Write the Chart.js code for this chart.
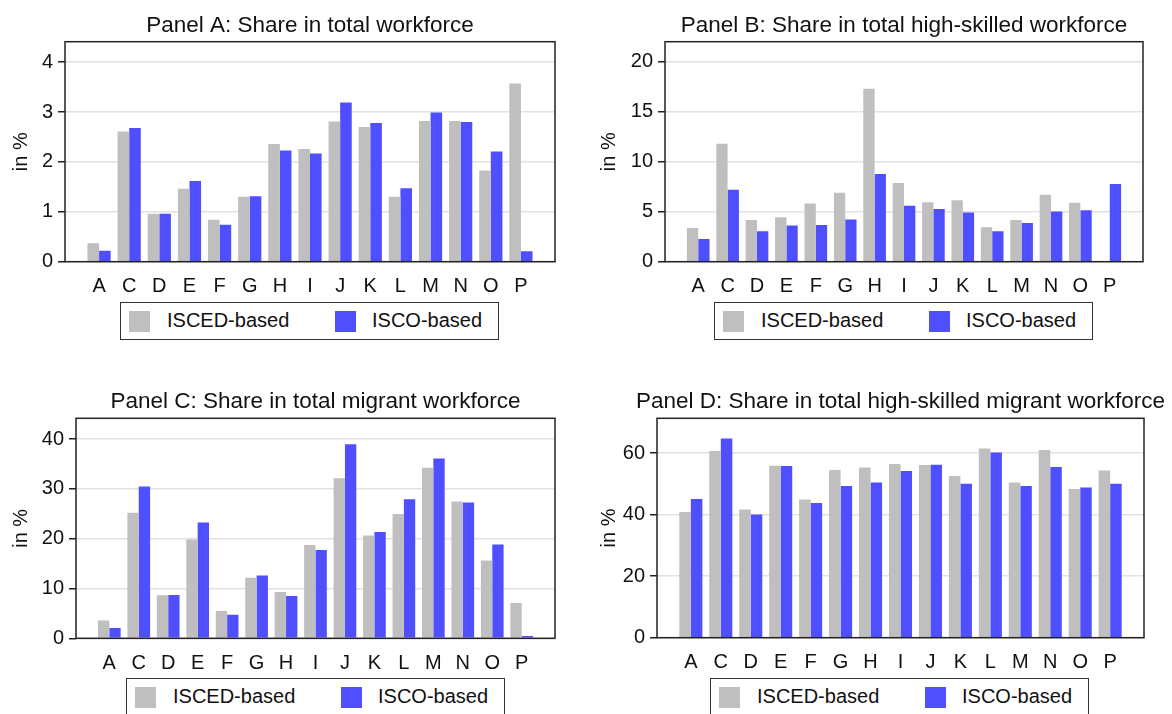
<!DOCTYPE html>
<html>
<head>
<meta charset="utf-8">
<script src="https://cdn.jsdelivr.net/npm/chart.js@4.4.0/dist/chart.umd.min.js"></script>
<style>
  html, body { margin: 0; padding: 0; background: #fff; }
  body { position: relative; width: 1172px; height: 714px; overflow: hidden; font-family: "Liberation Sans", Arial, sans-serif; }
  canvas.panel { position: absolute; }
  .legend { position: absolute; box-sizing: border-box; width: 379px; height: 38px; border: 1.5px solid #333; background: #fff; }
  .legend .sw { position: absolute; top: 7.5px; width: 21px; height: 21px; }
  .legend .lb { position: absolute; top: 0; height: 35px; line-height: 35px; font-size: 20px; color: #111; white-space: nowrap; }
</style>
</head>
<body>
<canvas id="chart-a" class="panel"></canvas>
<canvas id="chart-b" class="panel"></canvas>
<canvas id="chart-c" class="panel"></canvas>
<canvas id="chart-d" class="panel"></canvas>
<script>
// 行业代码 (x 轴)
const sectors = ['A', 'C', 'D', 'E', 'F', 'G', 'H', 'I', 'J', 'K', 'L', 'M', 'N', 'O', 'P'];
const seriesNames = ['ISCED-based', 'ISCO-based'];

// Panel A: total workforce
const aIsced = [0.37, 2.61, 0.96, 1.46, 0.84, 1.30, 2.36, 2.26, 2.81, 2.70, 1.30, 2.82, 2.82, 1.83, 3.57];
const aIsco  = [0.22, 2.68, 0.96, 1.62, 0.74, 1.31, 2.23, 2.17, 3.19, 2.78, 1.47, 2.99, 2.80, 2.21, 0.21];

// Panel B: high-skilled workforce
const bIsced = [3.38, 11.8, 4.18, 4.45, 5.82, 6.89, 17.29, 7.86, 5.95, 6.15, 3.44, 4.18, 6.69, 5.89, null];
const bIsco  = [2.27, 7.19, 3.04, 3.61, 3.68, 4.21, 8.76, 5.59, 5.28, 4.92, 3.04, 3.88, 5.02, 5.15, 7.76];

// Panel C: migrant workforce
const cIsced = [3.6, 25.2, 8.63, 19.87, 5.48, 12.17, 9.3, 18.73, 32.17, 20.67, 24.95, 34.25, 27.49, 15.65, 7.09];
const cIsco  = [2.07, 30.5, 8.7, 23.28, 4.75, 12.64, 8.5, 17.73, 39.0, 21.34, 27.96, 36.12, 27.29, 18.86, 0.47];

// Panel D: high-skilled migrant workforce
const dIsced = [40.83, 60.65, 41.7, 55.89, 44.95, 54.48, 55.34, 56.43, 56.1, 52.53, 61.52, 50.47, 60.98, 48.3, 54.37];
const dIsco  = [45.06, 64.77, 40.07, 55.78, 43.76, 49.28, 50.47, 54.15, 56.21, 50.04, 60.22, 49.28, 55.45, 48.85, 50.04];

// y 轴刻度
const aTicks = [0, 1, 2, 3, 4];
const bTicks = [0, 5, 10, 15, 20];
const cTicks = [0, 10, 20, 30, 40];
const dTicks = [0, 20, 40, 60];

const GRAY = '#bfbfbf';
const BLUE = '#4f4fff';
const FONT = '"Liberation Sans", Arial, sans-serif';

// 面板布局
const panels = [
  { id: 'chart-a', title: 'Panel A: Share in total workforce', isced: aIsced, isco: aIsco, ticks: aTicks, yMax: 4.41,
    left: 0, top: 0, axisW: 65, plotW: 490, height: 300, titlePad: [12.3, 2.4], xH: 38.3, yTitlePad: 9.5, legend: [120, 302] },
  { id: 'chart-b', title: 'Panel B: Share in total high-skilled workforce', isced: bIsced, isco: bIsco, ticks: bTicks, yMax: 22,
    left: 590, top: 0, axisW: 75, plotW: 478, height: 300, titlePad: [12.3, 2.4], xH: 38.3, yTitlePad: 7.5, legend: [714, 302] },
  { id: 'chart-c', title: 'Panel C: Share in total migrant workforce', isced: cIsced, isco: cIsco, ticks: cTicks, yMax: 44.2,
    left: 0, top: 370, axisW: 76, plotW: 479, height: 307, titlePad: [18.2, 3.1], xH: 38.7, yTitlePad: 9.5, legend: [126, 678] },
  { id: 'chart-d', title: 'Panel D: Share in total high-skilled migrant workforce', isced: dIsced, isco: dIsco, ticks: dTicks, yMax: 71.3,
    left: 590, top: 370, axisW: 67, plotW: 487, height: 307, titlePad: [18.2, 3.1], xH: 39.3, yTitlePad: 7.5, legend: [710, 678] }
];

// 绘图区黑框
const framePlugin = {
  id: 'frame',
  afterDatasetsDraw(chart) {
    const { ctx, chartArea: a } = chart;
    ctx.save();
    ctx.strokeStyle = '#222';
    ctx.lineWidth = 1.5;
    ctx.strokeRect(a.left, a.top, a.right - a.left, a.bottom - a.top);
    ctx.restore();
  }
};

function toPoints(values) {
  return values.map((v, i) => ({ x: i, y: v }));
}

function buildChart(p) {
  const canvas = document.getElementById(p.id);
  const width = p.plotW + 2 * p.axisW;
  canvas.width = width;
  canvas.height = p.height;
  canvas.style.left = p.left + 'px';
  canvas.style.top = p.top + 'px';
  canvas.style.width = width + 'px';
  canvas.style.height = p.height + 'px';

  new Chart(canvas, {
    type: 'bar',
    data: {
      datasets: [
        { label: seriesNames[0], data: toPoints(p.isced), backgroundColor: GRAY, borderWidth: 0, categoryPercentage: 0.77, barPercentage: 1.0 },
        { label: seriesNames[1], data: toPoints(p.isco), backgroundColor: BLUE, borderWidth: 0, categoryPercentage: 0.77, barPercentage: 1.0 }
      ]
    },
    options: {
      responsive: false,
      animation: false,
      layout: { padding: 0 },
      plugins: {
        legend: { display: false },
        tooltip: { enabled: false },
        title: {
          display: true,
          text: p.title,
          color: '#111',
          font: { family: FONT, size: 22.5, weight: 'normal' },
          padding: { top: p.titlePad[0], bottom: p.titlePad[1] }
        }
      },
      scales: {
        x: {
          type: 'linear',
          offset: false,
          min: -1.13,
          max: sectors.length - 1 + 1.13,
          afterBuildTicks: s => { s.ticks = sectors.map((_, i) => ({ value: i })); },
          afterFit: s => { s.height = p.xH; },
          ticks: {
            autoSkip: false,
            maxRotation: 0,
            padding: 5,
            color: '#111',
            font: { family: FONT, size: 20 },
            callback: v => sectors[v]
          },
          grid: { display: false, offset: false },
          border: { display: false }
        },
        y: {
          min: 0,
          max: p.yMax,
          afterBuildTicks: s => { s.ticks = p.ticks.map(v => ({ value: v })); },
          afterFit: s => { s.width = p.axisW; },
          ticks: { color: '#111', padding: 5, font: { family: FONT, size: 20 } },
          grid: { color: '#e2e2e2', lineWidth: 1.5, tickColor: '#222', tickLength: 7, tickWidth: 1.5 },
          border: { display: false },
          title: {
            display: true,
            text: 'in %',
            color: '#111',
            font: { family: FONT, size: 20 },
            padding: { top: p.yTitlePad, bottom: 0 }
          }
        },
        // 右侧占位轴, 使标题与绘图区居中对齐
        y2: {
          position: 'right',
          afterFit: s => { s.width = p.axisW; },
          ticks: { display: false },
          grid: { display: false },
          border: { display: false }
        }
      }
    },
    plugins: [framePlugin]
  });

  // 图例
  const box = document.createElement('div');
  box.className = 'legend';
  box.style.left = p.legend[0] + 'px';
  box.style.top = p.legend[1] + 'px';
  const colors = [GRAY, BLUE];
  const swX = [7.5, 213.5];
  const lbX = [46, 251];
  seriesNames.forEach((name, i) => {
    const sw = document.createElement('span');
    sw.className = 'sw';
    sw.style.left = swX[i] + 'px';
    sw.style.background = colors[i];
    const lb = document.createElement('span');
    lb.className = 'lb';
    lb.style.left = lbX[i] + 'px';
    lb.textContent = name;
    box.appendChild(sw);
    box.appendChild(lb);
  });
  document.body.appendChild(box);
}

panels.forEach(buildChart);
</script>
</body>
</html>
